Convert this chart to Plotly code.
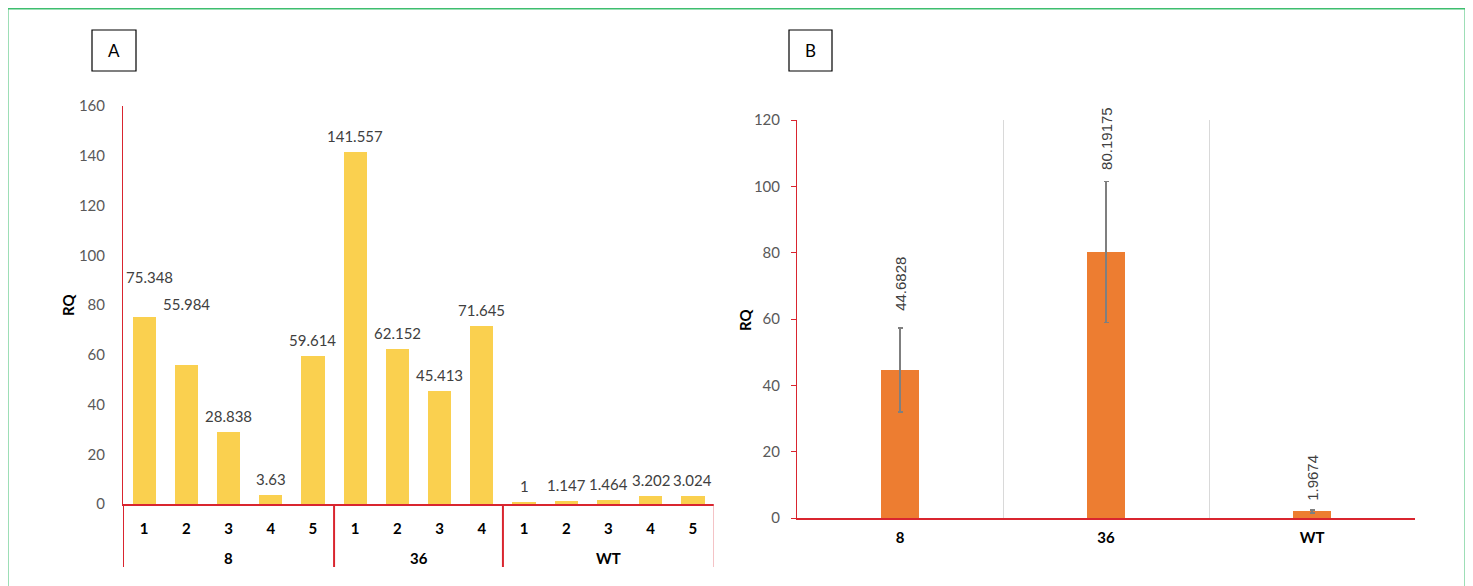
import plotly.graph_objects as go

# ---------------- data: panel A ----------------
groups_a = ["8", "36", "WT"]
reps_a = [["1", "2", "3", "4", "5"], ["1", "2", "3", "4"], ["1", "2", "3", "4", "5"]]
rq_a = [75.348, 55.984, 28.838, 3.63, 59.614,
        141.557, 62.152, 45.413, 71.645,
        1, 1.147, 1.464, 3.202, 3.024]
yticks_a = [0, 20, 40, 60, 80, 100, 120, 140, 160]

# ---------------- data: panel B ----------------
groups_b = ["8", "36", "WT"]
rq_b = [44.6828, 80.19175, 1.9674]
err_b = [12.65, 21.3, 0.5]
yticks_b = [0, 20, 40, 60, 80, 100, 120]

# ---------------- styles ----------------
RED = "#D9252F"
GOLD = "#FAD04F"
ORANGE = "#ED7D31"
LBL = "#404040"
TICK = "#595959"
FONT = "Lato"

OFF = 8            # page body margin
FW, FH = 1465, 578  # figure size


def px_x(p):
    return (p - OFF) / FW


def px_y(p):
    return (FH - (p - OFF)) / FH


dom_ax = [px_x(123), px_x(714)]
dom_ay = [px_y(504), px_y(106)]
dom_bx = [px_x(797), px_x(1415)]
dom_by = [px_y(518), px_y(120)]

# per-label pixel offsets (x, y) for panel A labels (manually moved in the original)
label_offsets_a = {0: (5, 40), 1: (0, 61)}
# gap above error bar (px) for panel B labels
label_gap_b = [15, 9, 7]

# positions for panel A bars
pos_a, ticktext_a, group_centers = [], [], []
i = 0
for g, reps in zip(groups_a, reps_a):
    start = i
    for r in reps:
        pos_a.append(i)
        ticktext_a.append(r)
        i += 1
    group_centers.append((start + i - 1) / 2)
boundaries = [-0.5]
acc = -0.5
for reps in reps_a:
    acc += len(reps)
    boundaries.append(acc)

fig = go.Figure()
fig.add_trace(go.Bar(x=pos_a, y=rq_a, marker=dict(color=GOLD, line=dict(width=0)),
                     width=0.55, xaxis="x", yaxis="y", showlegend=False))
fig.add_trace(go.Bar(x=groups_b, y=rq_b, marker=dict(color=ORANGE, line=dict(width=0)),
                     width=0.18, xaxis="x2", yaxis="y2", showlegend=False,
                     error_y=dict(type="data", array=err_b, visible=True,
                                  color="#7F7F7F", thickness=1.5, width=2.5)))

annotations = []
for k, (x, v) in enumerate(zip(pos_a, rq_a)):
    dx, dy = label_offsets_a.get(k, (0, 16))
    annotations.append(dict(x=x, y=v, xref="x", yref="y", text=str(v), showarrow=False,
                            xanchor="center", yanchor="middle", xshift=dx, yshift=dy,
                            font=dict(family=FONT, size=15, color=LBL)))
for gc, g in zip(group_centers, groups_a):
    annotations.append(dict(x=gc, y=px_y(558), xref="x", yref="paper", text=g, showarrow=False,
                            xanchor="center", yanchor="middle",
                            font=dict(family=FONT, size=15, color="black", weight="bold")))
for k, (v, e) in enumerate(zip(rq_b, err_b)):
    annotations.append(dict(x=k, y=v + e, xref="x2", yref="y2", text=str(v), showarrow=False,
                            textangle=-90, xanchor="center", yanchor="bottom",
                            xshift=1, yshift=label_gap_b[k],
                            font=dict(family="Liberation Sans", size=15, color=LBL)))
# axis titles
annotations.append(dict(x=px_x(68), y=px_y(305), xref="paper", yref="paper", text="RQ",
                        textangle=-90, showarrow=False, xanchor="center", yanchor="middle",
                        font=dict(family=FONT, size=15, color="black", weight="bold")))
annotations.append(dict(x=px_x(745), y=px_y(320), xref="paper", yref="paper", text="RQ",
                        textangle=-90, showarrow=False, xanchor="center", yanchor="middle",
                        font=dict(family=FONT, size=15, color="black", weight="bold")))
# panel letters
for letter, (x0, x1) in [("A", (92, 136)), ("B", (789, 832))]:
    annotations.append(dict(x=px_x((x0 + x1) / 2), y=px_y(50.5), xref="paper", yref="paper",
                            text=letter, showarrow=False, xanchor="center", yanchor="middle",
                            font=dict(family=FONT, size=17, color="black")))

shapes = []
for k, b in enumerate(boundaries):
    last = k == len(boundaries) - 1
    shapes.append(dict(type="line", xref="x", yref="paper", x0=b, x1=b,
                       y0=px_y(504), y1=px_y(567),
                       line=dict(color="#E8878C" if last else RED, width=1 if last else 2)))
for x0, x1 in [(92, 136), (789, 832)]:
    shapes.append(dict(type="rect", xref="paper", yref="paper", x0=px_x(x0), x1=px_x(x1),
                       y0=px_y(71), y1=px_y(30), line=dict(color="black", width=1.2)))
shapes.append(dict(type="rect", xref="paper", yref="paper", x0=px_x(7.5), x1=px_x(1465.5),
                   y0=-0.1, y1=px_y(8.5), line=dict(color="#3DBE6E", width=2)))

fig.update_layout(
    width=FW, height=FH, autosize=False,
    margin=dict(l=0, r=0, t=0, b=0),
    paper_bgcolor="white", plot_bgcolor="white",
    bargap=0,
    xaxis=dict(domain=dom_ax, range=[-0.5, 13.5], tickmode="array", tickvals=pos_a,
               ticktext=ticktext_a, showgrid=False, zeroline=False, showline=True,
               linecolor=RED, linewidth=2, ticks="", anchor="y", automargin=False,
               ticklabelstandoff=10,
               tickfont=dict(family=FONT, size=15, color="black", weight="bold")),
    yaxis=dict(domain=dom_ay, range=[0, 160], tickmode="array", tickvals=yticks_a,
               showgrid=False, zeroline=False, showline=True, linecolor=RED, linewidth=1,
               ticks="", anchor="x", automargin=False, ticklabelstandoff=14,
               tickfont=dict(family=FONT, size=15, color=TICK)),
    xaxis2=dict(domain=dom_bx, type="category", range=[-0.5, 2.5], tickson="boundaries",
                showgrid=True, gridcolor="#D9D9D9", gridwidth=1, zeroline=False,
                showline=True, linecolor=RED, linewidth=1.5, ticks="", anchor="y2",
                automargin=False, ticklabelstandoff=5,
                tickfont=dict(family=FONT, size=15, color="black", weight="bold")),
    yaxis2=dict(domain=dom_by, range=[0, 120], tickmode="array", tickvals=yticks_b,
                showgrid=False, zeroline=False, showline=True, linecolor=RED, linewidth=1,
                ticks="outside", ticklen=5, tickcolor=RED, tickwidth=1, anchor="x2",
                automargin=False, ticklabelstandoff=8,
                tickfont=dict(family=FONT, size=15, color=TICK)),
    annotations=annotations,
    shapes=shapes,
)

fig.write_html("out.html")
